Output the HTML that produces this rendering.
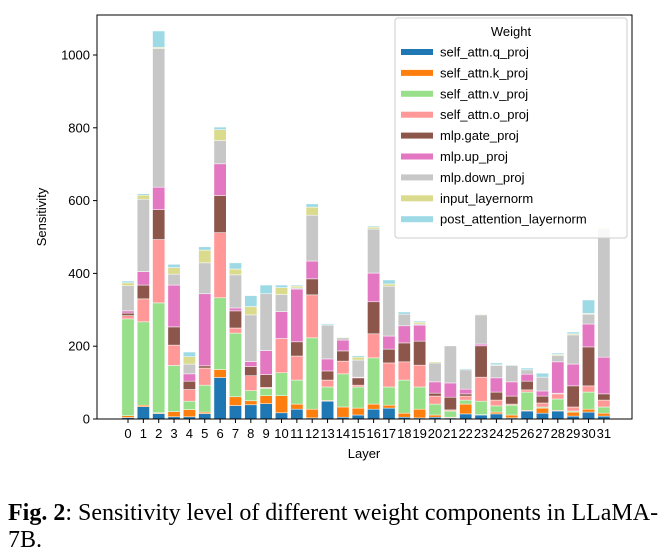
<!DOCTYPE html>
<html><head><meta charset="utf-8"><style>
body{margin:0;background:#fff;width:668px;height:558px;overflow:hidden;font-family:"Liberation Sans",sans-serif}
svg text{font-family:"Liberation Sans",sans-serif}
.cap{position:absolute;left:8px;top:500px;width:665px;font-family:"Liberation Serif",serif;font-size:24px;line-height:27px;color:#000;white-space:nowrap}
</style></head><body>
<svg id="chart" width="668" height="490" style="position:absolute;left:0;top:0"></svg>
<div class="cap"><b>Fig. 2</b>: Sensitivity level of different weight components in LLaMA-<br>7B.</div>
<script>
const layers=[0,1,2,3,4,5,6,7,8,9,10,11,12,13,14,15,16,17,18,19,20,21,22,23,24,25,26,27,28,29,30,31];
const seriesNames=["self_attn.q_proj","self_attn.k_proj","self_attn.v_proj","self_attn.o_proj","mlp.gate_proj","mlp.up_proj","mlp.down_proj","input_layernorm","post_attention_layernorm"];
const colors=["#1f77b4","#ff7f0e","#98df8a","#ff9896","#8c564b","#e377c2","#c7c7c7","#dbdb8d","#9edae5"];
const qProj=[4,34,15,6,6,15,114,37,39,42,17,27,3,49,5,11,27,30,5,3,5,3,14,11,14,3,22,16,22,8,19,8];
const kProj=[5,4,2,14,20,4,22,24,11,22,47,14,24,2,28,19,14,8,11,24,6,2,27,1,5,8,2,14,2,11,8,8];
const vProj=[266,229,302,127,23,74,197,175,28,20,63,66,196,37,91,58,127,50,91,61,30,17,11,37,17,27,50,3,31,3,47,17];
const oProj=[9,63,174,56,32,47,179,14,41,3,94,66,118,19,35,5,66,66,50,60,22,3,11,66,16,3,6,11,14,11,17,19];
const gateProj=[7,38,82,50,23,6,102,47,25,35,0,39,44,25,28,20,88,38,52,66,8,35,6,86,22,22,24,19,2,58,107,17];
const upProj=[6,37,62,115,20,198,87,8,14,66,74,145,49,33,30,2,79,36,47,44,31,39,13,5,39,39,19,14,86,60,63,101];
const downProj=[69,199,381,30,27,85,64,91,128,156,47,3,126,93,6,47,121,137,32,3,52,102,53,80,34,45,12,38,17,80,27,352];
const inputLN=[8,11,3,18,20,35,30,16,23,0,19,5,22,0,2,8,5,6,0,5,3,0,0,2,2,0,0,0,3,3,2,3];
const postLN=[5,4,45,9,13,9,7,17,30,24,7,3,9,3,0,4,3,11,6,3,0,1,3,0,5,2,5,11,4,5,37,0];
const yTicks=[0,200,400,600,800,1000];
const series=[qProj,kProj,vProj,oProj,gateProj,upProj,downProj,inputLN,postLN];

const NS="http://www.w3.org/2000/svg";
const svg=document.getElementById('chart');
const L=97,R=632,T=15,B=419;
const yS=v=>B-v*0.364;
const xS=i=>128+i*15.35;
const bw=12.3;
function el(tag,a){const e=document.createElementNS(NS,tag);for(const k in a)e.setAttribute(k,a[k]);svg.appendChild(e);return e;}
layers.forEach((ly,i)=>{
  let cum=0;
  series.forEach((s,j)=>{
    const v=s[i];
    const r=el('rect',{x:xS(i)-bw/2,y:yS(cum+v),width:bw,height:Math.max(0,yS(cum)-yS(cum+v)),fill:colors[j],stroke:'#fff','stroke-width':0.5});
    
    
    cum+=v;
  });
});
const fr=el('rect',{x:L,y:T,width:R-L,height:B-T,fill:'none',stroke:'#000','stroke-width':1});


yTicks.forEach(t=>{
  const y=yS(t);
  el('line',{x1:L-4,x2:L,y1:y,y2:y,stroke:'#000'});
  const tx=el('text',{x:L-7,y:y+4.5,'text-anchor':'end','font-size':13});
  tx.textContent=t;
  
  
});
layers.forEach((ly,i)=>{
  const x=xS(i);
  el('line',{x1:x,x2:x,y1:B,y2:B+4,stroke:'#000'});
  const tx=el('text',{x:x,y:B+19,'text-anchor':'middle','font-size':13});
  tx.textContent=ly;
  
  
});
const yl=el('text',{x:0,y:0,'text-anchor':'middle','font-size':13,transform:'translate(46,217) rotate(-90)'});
yl.textContent='Sensitivity';


const xl=el('text',{x:364,y:458,'text-anchor':'middle','font-size':13});
xl.textContent='Layer';


const lg=el('rect',{x:395,y:18,width:232,height:220,rx:3,fill:'#fff','fill-opacity':0.85,stroke:'#ccc'});


const lt=el('text',{x:511,y:36,'text-anchor':'middle','font-size':13});
lt.textContent='Weight';


seriesNames.forEach((n,j)=>{
  const y=52+j*20.9;
  el('rect',{x:401,y:y-3,width:32,height:6,fill:colors[j]});
  const t=el('text',{x:440,y:y+4.5,'font-size':13});
  t.textContent=n;
  
  
});
</script>
</body></html>
